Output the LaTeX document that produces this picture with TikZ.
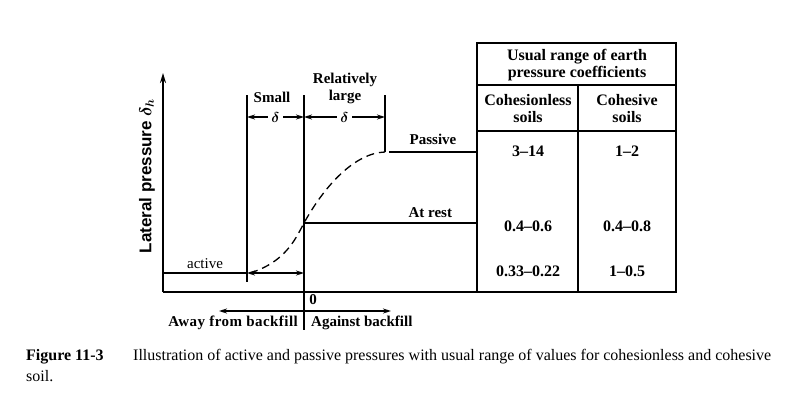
\documentclass[tikz,border=0pt]{standalone}
\usepackage{amsmath}
\usepackage{fontspec}
\setmainfont{Liberation Serif}
\setsansfont{Liberation Sans}
\usetikzlibrary{arrows.meta}
\begin{document}
\begin{tikzpicture}[x=1pt,y=-1pt]
	% Styles
	\tikzstyle{trait}=[line width=1.6pt]
	\tikzstyle{fleche}=[<->,>={Stealth[length=8pt,width=5pt]},line width=1.3pt]
	\tikzstyle{axe}=[->,>={Stealth[length=10pt,width=6pt]},line width=1.6pt]
	\tikzstyle{courbe}=[dash pattern=on 8pt off 5pt,line width=1.3pt]
	\tikzstyle{etiquette}=[font=\fontsize{15}{17}\selectfont\bfseries,inner sep=0pt,align=center]
	\tikzstyle{case}=[etiquette,font=\fontsize{16}{17}\selectfont\bfseries]
	\tikzstyle{valeur}=[etiquette,fill=white,inner xsep=3pt]
	\tikzstyle{legende}=[font=\fontsize{16}{19}\selectfont,inner sep=0pt,anchor=base west]
	\useasboundingbox (0,0) rectangle (800,399);
	% Axes
	\coordinate (O) at (163,292);
	\coordinate (H) at (163,73);
	\coordinate (T) at (477,292);
	\draw[axe] (O)--(H);
	\draw[trait] (O)--(T);
	\node[etiquette,rotate=90,font=\fontsize{17}{19}\selectfont\sffamily\bfseries] (Ylab) at (147,176) {Lateral pressure $\boldsymbol{\delta_h}$};
	% Verticales
	\coordinate (Sa) at (247,95);   \coordinate (Sb) at (247,282);
	\coordinate (Ma) at (304,95);   \coordinate (Mb) at (304,330);
	\coordinate (La) at (385,95);   \coordinate (Lb) at (385,152);
	\draw[trait] (Sa)--(Sb);
	\draw[trait] (Ma)--(Mb);
	\draw[trait] (La)--(Lb);
	% Deplacements
	\coordinate (Sd) at (247,117); \coordinate (Md) at (304,117); \coordinate (Ld) at (385,117);
	\draw[fleche] (Sd)--(Md) node[valeur,midway] {$\boldsymbol{\delta}$};
	\draw[fleche] (Md)--(Ld) node[valeur,midway] {$\boldsymbol{\delta}$};
	\node[etiquette] (Small) at (272,97) {Small};
	\node[etiquette] (Large) at (345,88) {Relatively\\large};
	% Etats
	\coordinate (Pa) at (389,152); \coordinate (Pb) at (477,152);
	\coordinate (Ra) at (304,223); \coordinate (Rb) at (477,223);
	\coordinate (Aa) at (163,273); \coordinate (Ab) at (247,273); \coordinate (Ac) at (304,273);
	\draw[trait] (Pa)--(Pb) node[etiquette,pos=0.5,above=7pt] {Passive};
	\draw[trait] (Ra)--(Rb) node[etiquette,pos=0.73,above=5pt] {At rest};
	\draw[trait] (Aa)--(Ab) node[etiquette,midway,above=4pt,font=\fontsize{15}{17}\selectfont] {active};
	\draw[fleche] (Ab)--(Ac);
	\draw[courbe] (250,273) .. controls (285,262) and (295,240) .. (Ra) .. controls (325,185) and (355,153) .. (Lb);
	% Sens du deplacement
	\coordinate (Ga) at (219,311); \coordinate (Gb) at (391,311);
	\draw[fleche] (Ga)--(Gb);
	\node[etiquette] (Zero) at (313,300) {0};
	\node[etiquette,anchor=east,font=\fontsize{15}{17}\selectfont\bfseries\addfontfeature{LetterSpace=3}] (Away) at (298,323) {Away from backfill};
	\node[etiquette,anchor=west] (Against) at (311,323) {Against backfill};
	% Tableau
	\draw[trait] (477,43) rectangle (676,292);
	\draw[trait] (477,85)--(676,85);
	\draw[trait] (477,131)--(676,131);
	\draw[trait] (578,85)--(578,292);
	\node[case] (Titre) at (577,65) {Usual range of earth\\pressure coefficients};
	\node[case] (ColA) at (528,109) {Cohesionless\\soils};
	\node[case] (ColB) at (627,109) {Cohesive\\soils};
	\node[case] (PA) at (528,151) {3--14};
	\node[case] (PB) at (627,151) {1--2};
	\node[case] (RA) at (528,226) {0.4--0.6};
	\node[case] (RB) at (627,226) {0.4--0.8};
	\node[case] (AA) at (528,271) {0.33--0.22};
	\node[case] (AB) at (627,271) {1--0.5};
	% Legende
	\node[legende,font=\fontsize{16}{19}\selectfont\bfseries] (Fig) at (26,360) {Figure 11-3};
	\node[legende] (Cap) at (133,360) {Illustration of active and passive pressures with usual range of values for cohesionless and cohesive};
	\node[legende] (Cap2) at (26,381) {soil.};
\end{tikzpicture}
\end{document}
